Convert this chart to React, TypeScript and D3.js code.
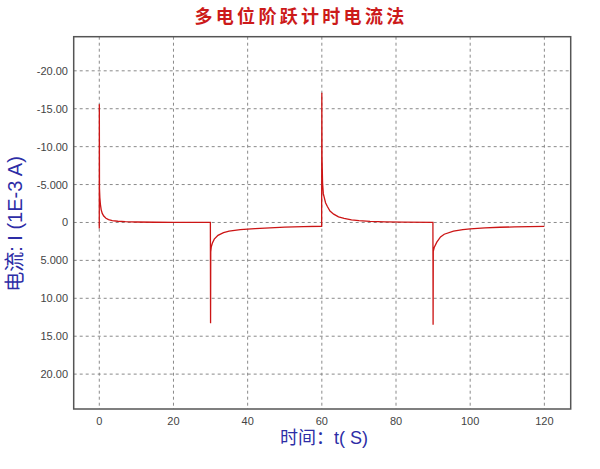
import * as d3 from "d3";

// time (s) and current (1E-3 A)
const timeS = [
  0, 0.01, 0.05, 0.15, 0.3, 0.5, 0.8, 1.2, 1.8, 2.5, 3.5, 5, 7, 10, 15, 20, 29.95,
  30, 30.05, 30.2, 30.5, 31, 32, 33.5, 35, 38, 42, 46, 50, 55, 59.95,
  60, 60.05, 60.2, 60.4, 61, 61.5, 62.2, 63.2, 64.5, 66, 68, 70, 73, 77, 82, 89.95,
  90, 90.05, 90.3, 91, 92, 93, 95.5, 98, 100, 104, 108, 112, 116, 120,
];
const currentMA = [
  0.8, -15.6, -4.5, -3.3, -2.4, -1.7, -1.2, -0.85, -0.55, -0.38, -0.25, -0.16, -0.1, -0.06, -0.03, -0.01, 0,
  13.3, 3.9, 3.2, 2.7, 2.2, 1.7, 1.35, 1.15, 0.95, 0.8, 0.7, 0.62, 0.56, 0.5,
  -17.1, -8.7, -5.2, -3.8, -2.6, -2.1, -1.5, -1.1, -0.75, -0.55, -0.35, -0.24, -0.15, -0.08, -0.04, 0,
  13.5, 3.8, 3.3, 2.6, 1.9, 1.55, 1.15, 0.95, 0.85, 0.72, 0.63, 0.58, 0.55, 0.52,
];

const xTicks = [0, 20, 40, 60, 80, 100, 120];
const yTicks = [-20, -15, -10, -5, 0, 5, 10, 15, 20];
const yTickLabels = ["-20.00", "-15.00", "-10.00", "-5.000", "0", "5.000", "10.00", "15.00", "20.00"];

const title = "多电位阶跃计时电流法";
const xLabel = "时间：t( S)";
const yLabel = "电流: I (1E-3 A)";

const width = 600;
const height = 469;
const left = 73.7;
const right = 570.7;
const top = 36.7;
const bottom = 409;

export default function App() {
  const x = d3.scaleLinear().domain([-6.9, 127.1]).range([left, right]);
  const y = d3.scaleLinear().domain([-24.5, 24.6]).range([top, bottom]);
  const pts = timeS.map((t, i) => [t, currentMA[i]] as [number, number]);
  const line = d3.line<[number, number]>().x((d) => x(d[0])).y((d) => y(d[1]));

  return (
    <svg
      width={width}
      height={height}
      style={{ position: "absolute", left: 0, top: 0, background: "#fff" }}
    >
      <rect x={0} y={0} width={width} height={height} fill="#fff" />
      <text
        x={301}
        y={23}
        textAnchor="middle"
        fill="#cc1a1a"
        fontSize={18}
        fontWeight="bold"
        letterSpacing={3.3}
        fontFamily="'Noto Sans CJK SC', sans-serif"
      >
        {title}
      </text>

      <g stroke="#8a8a8a" strokeWidth={1} strokeDasharray="3,3">
        {xTicks.map((t) => (
          <line key={"gx" + t} x1={x(t)} x2={x(t)} y1={top} y2={bottom} />
        ))}
        {yTicks.map((t) => (
          <line key={"gy" + t} x1={left} x2={right} y1={y(t)} y2={y(t)} />
        ))}
      </g>

      <path d={line(pts) ?? ""} fill="none" stroke="#cc1515" strokeWidth={1.3} />

      <rect
        x={left}
        y={top}
        width={right - left}
        height={bottom - top}
        fill="none"
        stroke="#555"
        strokeWidth={1.5}
      />

      <g fontFamily="'Liberation Sans', Arial, sans-serif" fontSize={11} fill="#444">
        {yTicks.map((t, i) => (
          <text key={"ty" + t} x={68} y={y(t) + 4} textAnchor="end">
            {yTickLabels[i]}
          </text>
        ))}
        {xTicks.map((t) => (
          <text key={"tx" + t} x={x(t)} y={425} textAnchor="middle">
            {t}
          </text>
        ))}
      </g>

      <text
        x={324}
        y={444}
        textAnchor="middle"
        fill="#2d2da6"
        fontSize={18}
        fontFamily="'Liberation Sans', 'Noto Sans CJK SC', sans-serif"
      >
        {xLabel}
      </text>
      <text
        transform={`translate(22,224) rotate(-90)`}
        textAnchor="middle"
        fill="#2d2da6"
        fontSize={20}
        fontFamily="'Liberation Sans', 'Noto Sans CJK SC', sans-serif"
      >
        {yLabel}
      </text>
    </svg>
  );
}
